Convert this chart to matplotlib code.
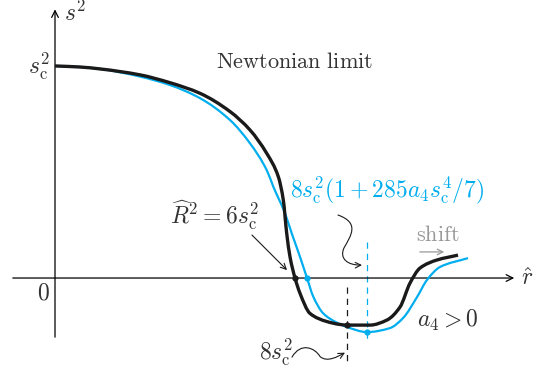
import numpy as np
import matplotlib
matplotlib.use("Agg")
import matplotlib.pyplot as plt
from matplotlib.path import Path
from matplotlib.patches import PathPatch, FancyArrowPatch

plt.rcParams['mathtext.fontset'] = 'cm'
plt.rcParams['font.family'] = ['DejaVu Serif']

# ---- data (schematic values, r-hat in arbitrary units, s^2 in units of s_c^2) ----
r_black = [0, 2.5, 4.5, 8.5, 11.5, 14.5, 17.5, 19.5, 21.17, 22.33, 22.83, 23.17, 23.5, 24.0,
           24.5, 25.5, 27.17, 28.5, 29.2, 31.5, 33.2, 34.5, 35.5, 36.5, 38.2, 40.3]
s2_black = [1.0, 0.995, 0.986, 0.958, 0.921, 0.871, 0.785, 0.698, 0.588, 0.478, 0.368, 0.211,
            0.100, 0.0, -0.072, -0.167, -0.205, -0.219, -0.222, -0.222, -0.198, -0.137,
            -0.024, 0.047, 0.085, 0.108]
r_blue = [0, 2.5, 4.5, 8.5, 11.5, 14.5, 17.5, 19.5, 21.17, 21.83, 23.0, 23.67, 24.5, 25.2,
          25.83, 26.83, 28.17, 29.2, 31.2, 33.5, 34.8, 36.2, 37.2, 38.5, 41.3]
s2_blue = [1.0, 0.995, 0.986, 0.950, 0.910, 0.848, 0.745, 0.635, 0.509, 0.431, 0.305, 0.211,
           0.100, 0.0, -0.088, -0.167, -0.210, -0.231, -0.255, -0.236, -0.189, -0.090,
           -0.009, 0.052, 0.094]

R2_black, R2_blue = 24.0, 25.2           # zero crossings
rmin_black, s2min_black = 29.2, -0.222   # minimum (8 s_c^2)
rmin_blue, s2min_blue = 31.2, -0.255     # shifted minimum

BLACK = '#1a1a1a'
BLUE = '#00aeef'
TXT = '#333333'

fig = plt.figure(figsize=(5.42, 3.69), dpi=100)
ax = fig.add_axes([0, 0, 1, 1])
ax.set_xlim(-5.5, 48.7)
ax.set_ylim(-0.429, 1.311)
ax.axis('off')


def smooth_path(x, y):
    """Shape-preserving (PCHIP-type) cubic through the points, drawn as Bezier segments."""
    x = np.asarray(x, float)
    y = np.asarray(y, float)
    h = np.diff(x)
    d = np.diff(y) / h
    n = len(x)
    m = np.zeros(n)
    m[0], m[-1] = d[0], d[-1]
    for k in range(1, n - 1):
        if d[k - 1] * d[k] > 0:
            w1 = 2 * h[k] + h[k - 1]
            w2 = h[k] + 2 * h[k - 1]
            m[k] = (w1 + w2) / (w1 / d[k - 1] + w2 / d[k])
        else:
            m[k] = 0.0
    verts = [(x[0], y[0])]
    codes = [Path.MOVETO]
    for k in range(n - 1):
        verts += [(x[k] + h[k] / 3, y[k] + m[k] * h[k] / 3),
                  (x[k + 1] - h[k] / 3, y[k + 1] - m[k + 1] * h[k] / 3),
                  (x[k + 1], y[k + 1])]
        codes += [Path.CURVE4] * 3
    return Path(verts, codes)


# axes
ax.annotate('', xy=(46.2, 0), xytext=(-4.5, 0),
            arrowprops=dict(arrowstyle='->', color='black', lw=0.9, mutation_scale=12))
ax.annotate('', xy=(0, 1.28), xytext=(0, -0.292),
            arrowprops=dict(arrowstyle='->', color='black', lw=0.9, mutation_scale=12))

# curves
ax.add_patch(PathPatch(smooth_path(r_blue, s2_blue), fill=False, ec=BLUE, lw=1.6, zorder=3))
ax.add_patch(PathPatch(smooth_path(r_black, s2_black), fill=False, ec=BLACK, lw=2.4, zorder=4))

# dashed markers of minima
ax.plot([rmin_black, rmin_black], [-0.042, -0.396], color=BLACK, lw=0.9, ls=(0, (5, 4)), zorder=2)
ax.plot([rmin_blue, rmin_blue], [0.170, -0.307], color=BLUE, lw=0.9, ls=(0, (5, 4)), zorder=2)

# dots
ax.plot([R2_black, rmin_black], [0, s2min_black], 'o', color=BLACK, ms=3.5, zorder=5)
ax.plot([R2_blue, rmin_blue], [0, s2min_blue], 'o', color=BLUE, ms=3.5, zorder=5)

# labels
fs = 17
ax.text(0.9, 1.25, r'$s^2$', fontsize=fs, color=TXT, ha='left', va='center')
ax.text(46.6, 0.0, r'$\hat{r}$', fontsize=fs, color=TXT, ha='left', va='center')
ax.text(-1.2, -0.07, r'$0$', fontsize=fs, color=TXT, ha='center', va='center')
ax.text(-0.5, 1.0, r'$s_{\rm c}^2$', fontsize=fs, color=TXT, ha='right', va='center')
ax.text(24.0, 1.019, r'$\mathrm{Newtonian\ limit}$', fontsize=16, color=TXT, ha='center', va='center')
ax.text(16.0, 0.297, r'$\widehat{R}^2 = 6s_{\rm c}^2$', fontsize=fs, color=TXT, ha='center', va='center')
ax.text(23.5, 0.415, r'$8s_{\rm c}^2(1 + 285a_4s_{\rm c}^4/7)$', fontsize=fs, color=BLUE,
        ha='left', va='center')
ax.text(38.3, 0.203, r'$\mathrm{shift}$', fontsize=16, color='#999999', ha='center', va='center')
ax.annotate('', xy=(39.2, 0.123), xytext=(36.2, 0.123),
            arrowprops=dict(arrowstyle='->', color='#999999', lw=0.9, mutation_scale=10))
ax.text(36.2, -0.198, r'$a_4 > 0$', fontsize=fs, color=TXT, ha='left', va='center')
ax.text(22.1, -0.349, r'$8s_{\rm c}^2$', fontsize=fs, color=TXT, ha='center', va='center')

# pointer arrows
ax.annotate('', xy=(23.4, 0.028), xytext=(19.5, 0.212),
            arrowprops=dict(arrowstyle='->', color=BLACK, lw=0.8, mutation_scale=10))

sq1 = Path([(28.3, 0.297), (30.5, 0.26), (29.6, 0.20), (28.9, 0.142),
            (28.4, 0.09), (29.3, 0.06), (30.7, 0.061)],
           [Path.MOVETO, Path.CURVE4, Path.CURVE4, Path.CURVE4,
            Path.CURVE4, Path.CURVE4, Path.CURVE4])
ax.add_patch(FancyArrowPatch(path=sq1, arrowstyle='->', color=BLACK, lw=0.8, mutation_scale=10))

sq2 = Path([(23.7, -0.373), (24.6, -0.30), (26.0, -0.33), (26.5, -0.37),
            (27.2, -0.40), (28.3, -0.37), (29.0, -0.352)],
           [Path.MOVETO, Path.CURVE4, Path.CURVE4, Path.CURVE4,
            Path.CURVE4, Path.CURVE4, Path.CURVE4])
ax.add_patch(FancyArrowPatch(path=sq2, arrowstyle='->', color=BLACK, lw=0.8, mutation_scale=10))

fig.savefig('out.png', dpi=100)
